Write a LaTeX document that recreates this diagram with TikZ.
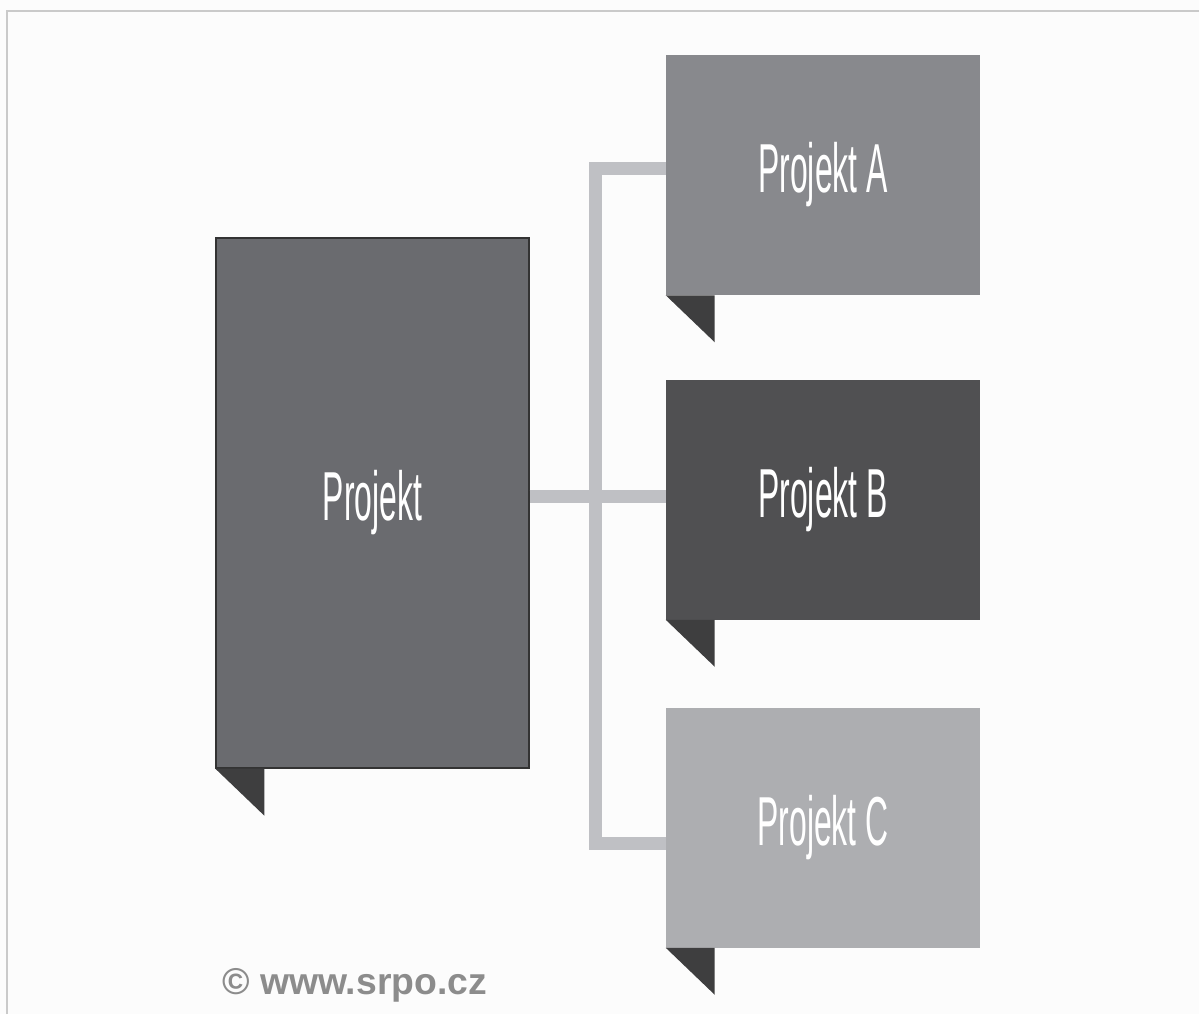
\documentclass[tikz,border=0pt]{standalone}
\usepackage{fontspec}
\usepackage{tikz}
\setmainfont{Liberation Sans}
\newfontfamily\condfont[FakeStretch=0.46]{Liberation Sans}

\definecolor{mainfill}{HTML}{6A6B6F}
\definecolor{afill}{HTML}{88898D}
\definecolor{bfill}{HTML}{505052}
\definecolor{cfill}{HTML}{ADAEB1}
\definecolor{tabfill}{HTML}{3E3E3F}
\definecolor{linkgray}{HTML}{BFC0C4}
\definecolor{framegray}{HTML}{CACACA}
\definecolor{markgray}{HTML}{8C8C8C}

\begin{document}
\begin{tikzpicture}[
    x=0.75pt, y=-0.75pt,
    box/.style={rectangle, inner sep=0pt, text=white,
        font=\condfont\fontsize{52}{52}\selectfont},
    sub/.style={box, minimum width=314*0.75pt, minimum height=240*0.75pt},
    link/.style={draw=linkgray, line width=9.75pt}
]
\useasboundingbox (0,0) rectangle (1199,1014);
\fill[white!99!black] (0,0) rectangle (1199,1014);
\draw[framegray, line width=1.5pt] (6.5,1014) -- (6.5,10.5) -- (1199,10.5);

\node[box, fill=mainfill, draw=black!80, line width=1pt,
    minimum width=313*0.75pt, minimum height=530*0.75pt] (main) at (372.5,503) {Projekt};
\node[sub, fill=afill] (pa) at (823,175) {Projekt A};
\node[sub, fill=bfill] (pb) at (823,499.5) {Projekt B};
\node[sub, fill=cfill] (pc) at (823,827.5) {Projekt C};

% folded tabs
\foreach \n in {main,pa,pb,pc}
    \fill[tabfill] (\n.south west) -- ++(49,0) -- ++(0,47) -- cycle;

% connectors
\coordinate (ja) at (595,168);
\coordinate (jb) at (595,496);
\coordinate (jc) at (595,843);
\draw[link] (main.east |- jb) -- (pb.west |- jb);
\draw[link] (pa.west |- ja) -- (ja) -- (jc) -- (pc.west |- jc);

\node[anchor=west, inner sep=0pt, text=markgray, font=\bfseries\fontsize{28}{28}\selectfont]
    (mark) at (222,985) {© www.srpo.cz};
\end{tikzpicture}
\end{document}
